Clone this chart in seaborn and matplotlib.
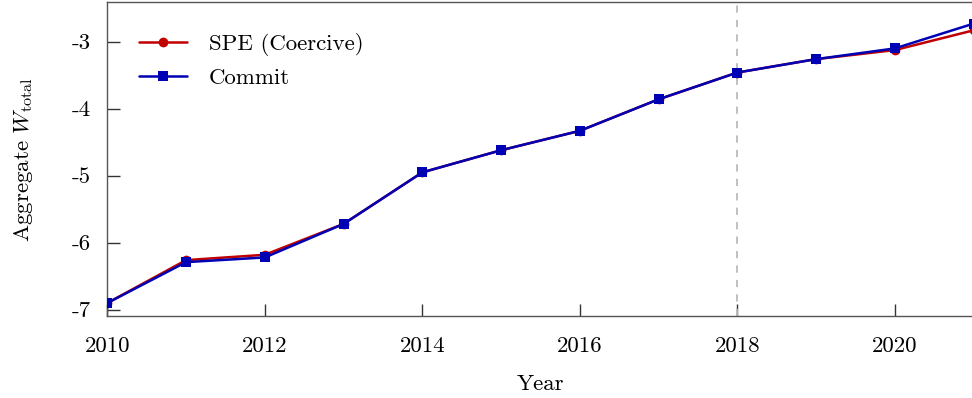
import matplotlib
matplotlib.use("Agg")
import matplotlib.pyplot as plt
import seaborn as sns
import pandas as pd

years = [2010, 2011, 2012, 2013, 2014, 2015, 2016, 2017, 2018, 2019, 2020, 2021]
spe_values = [-6.90, -6.26, -6.18, -5.72, -4.95, -4.62, -4.33, -3.86, -3.46, -3.26, -3.125, -2.83]
commit_values = [-6.90, -6.29, -6.22, -5.72, -4.95, -4.62, -4.33, -3.86, -3.46, -3.26, -3.10, -2.73]
series_labels = ["SPE (Coercive)", "Commit"]
xtick_values = [2010, 2012, 2014, 2016, 2018, 2020]
ytick_values = [-7, -6, -5, -4, -3]
ytick_labels = ["-7", "-6", "-5", "-4", "-3"]
cutoff_year = 2018

sns.set_theme(style="white")
plt.rcParams["font.family"] = ["cmr10", "DejaVu Serif"]
plt.rcParams["mathtext.fontset"] = "cm"
plt.rcParams["axes.unicode_minus"] = False
plt.rcParams["text.color"] = "black"
plt.rcParams["axes.labelcolor"] = "black"
plt.rcParams["xtick.color"] = "black"
plt.rcParams["ytick.color"] = "black"

df = pd.DataFrame({"Year": years, "SPE": spe_values, "Commit": commit_values})

fig = plt.figure(figsize=(9.72, 3.98), dpi=100)
left = 107.3 / 972
right = 973.5 / 972
bottom = 1 - 316 / 398
top = 1 - 2 / 398
ax = fig.add_axes([left, bottom, right - left, top - bottom])

red = "#C00000"
blue = "#0000B4"
ax.axvline(cutoff_year, color="#BBBBBB", lw=1.3, ls=(0, (4, 4)), zorder=1)
sns.lineplot(data=df, x="Year", y="SPE", ax=ax, color=red, marker="o", markersize=7,
             markeredgewidth=0, lw=1.8, label=series_labels[0], zorder=3)
sns.lineplot(data=df, x="Year", y="Commit", ax=ax, color=blue, marker="s", markersize=7,
             markeredgewidth=0, lw=1.8, label=series_labels[1], zorder=4)

ax.set_xlim(2010, 2021)
ax.set_ylim(-7.094, -2.407)
ax.set_xticks(xtick_values)
ax.set_xticklabels([str(v) for v in xtick_values])
ax.set_yticks(ytick_values)
ax.set_yticklabels(ytick_labels)
ax.tick_params(axis="both", which="major", direction="in", length=9, width=1,
               color="#333333", labelcolor="black", labelsize=16.5,
               bottom=True, left=True, top=False, right=False)
ax.tick_params(axis="x", pad=15)
ax.tick_params(axis="y", pad=12)
for s in ax.spines.values():
    s.set_color("#555555")
    s.set_linewidth(1.0)

ax.set_xlabel("Year", fontsize=16.5, labelpad=13, color="black")
ax.set_ylabel(r"Aggregate $W_{\mathrm{total}}$", fontsize=16.5, labelpad=26, color="black")

leg = ax.legend(loc="upper left", bbox_to_anchor=(0.026, 0.93), frameon=False,
                fontsize=16.5, handlelength=2.1, handletextpad=0.95, labelspacing=0.5,
                borderaxespad=0)
for t in leg.get_texts():
    t.set_color("black")

fig.savefig("out.png", dpi=100)
